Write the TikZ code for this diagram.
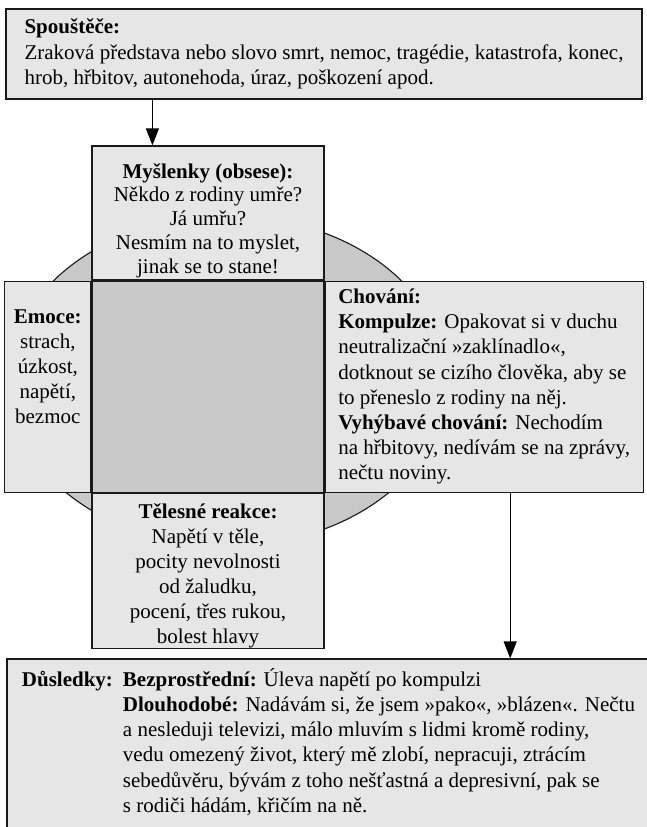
\documentclass[tikz,border=0pt]{standalone}
\usepackage{fontspec}
\setmainfont{Liberation Serif}
\usetikzlibrary{positioning, calc, arrows.meta, shapes.geometric}

\definecolor{svetla}{RGB}{230,230,230}
\definecolor{tmava}{RGB}{200,200,200}

\begin{document}
\begin{tikzpicture}[x=1pt, y=-1pt,
    font=\fontsize{21}{25.2}\selectfont,
    box/.style={draw=black!90, line width=1.2pt, fill=svetla, inner sep=0pt},
    sipka/.style={line width=1.2pt, -{Triangle[length=17pt, width=13pt]}}]
  \useasboundingbox (0,0) rectangle (646,827);

  % kruh za ctvercem
  \node[ellipse, draw=black!90, line width=1.1pt, fill=tmava, inner sep=0pt,
        minimum width=438pt, minimum height=330pt] (kruh) at (227.5,381) {};

  \node[box, minimum width=636pt, minimum height=90pt, align=left] (spoust) at (324,54) {
    \textbf{Spouštěče:}\\
    Zraková představa nebo slovo smrt, nemoc, tragédie, katastrofa, konec,\\
    hrob, hřbitov, autonehoda, úraz, poškození apod.};

  \node[box, minimum width=232pt, minimum height=134pt, align=center,
        font=\fontsize{21}{23.8}\selectfont] (mysl) at (208,213) {
    \rule{0pt}{30pt}\textbf{Myšlenky (obsese):}\\
    Někdo z rodiny umře?\\
    Já umřu?\\
    Nesmím na to myslet,\\
    jinak se to stane!};

  \node[box, fill=tmava, minimum width=232pt, minimum height=211pt, below=0pt of mysl] (stred) {};

  \node[box, minimum width=86pt, minimum height=211pt, align=center, left=0pt of stred] (emoce) {
    \textbf{Emoce:}\\
    strach,\\
    úzkost,\\
    napětí,\\
    bezmoc\rule[-40pt]{0pt}{40pt}};

  \node[box, minimum width=318pt, minimum height=211pt, align=left, right=0pt of stred] (chov) {
    \textbf{Chování:}\\
    \textbf{Kompulze:} Opakovat si v duchu\\
    neutralizační »zaklínadlo«,\\
    dotknout se cizího člověka, aby se\\
    to přeneslo z rodiny na něj.\\
    \textbf{Vyhýbavé chování:} Nechodím\\
    na hřbitovy, nedívám se na zprávy,\\
    nečtu noviny.};

  \node[box, minimum width=232pt, minimum height=155pt, align=center, below=0pt of stred,
        font=\fontsize{21}{25}\selectfont] (telo) {
    \rule{0pt}{25pt}\textbf{Tělesné reakce:}\\
    Napětí v těle,\\
    pocity nevolnosti\\
    od žaludku,\\
    pocení, třes rukou,\\
    bolest hlavy};

  \node[box, minimum width=643pt, minimum height=170pt, align=left] (dusl) at (328.5,744) {
    \begin{tabular}{@{}l@{\hspace{10pt}}l@{}}
      \textbf{Důsledky:} & \textbf{Bezprostřední:} Úleva napětí po kompulzi\\
      & \textbf{Dlouhodobé:} Nadávám si, že jsem »pako«, »blázen«. Nečtu\\
      & a nesleduji televizi, málo mluvím s lidmi kromě rodiny,\\
      & vedu omezený život, který mě zlobí, nepracuji, ztrácím\\
      & sebedůvěru, bývám z toho nešťastná a depresivní, pak se\\
      & s rodiči hádám, křičím na ně.
    \end{tabular}};

  \draw[sipka] ([xshift=61pt]mysl.north west |- spoust.south) -- ([xshift=61pt]mysl.north west);
  \draw[sipka] ([xshift=26pt]chov.south) -- ([xshift=26pt]chov.south |- dusl.north);
\end{tikzpicture}
\end{document}
